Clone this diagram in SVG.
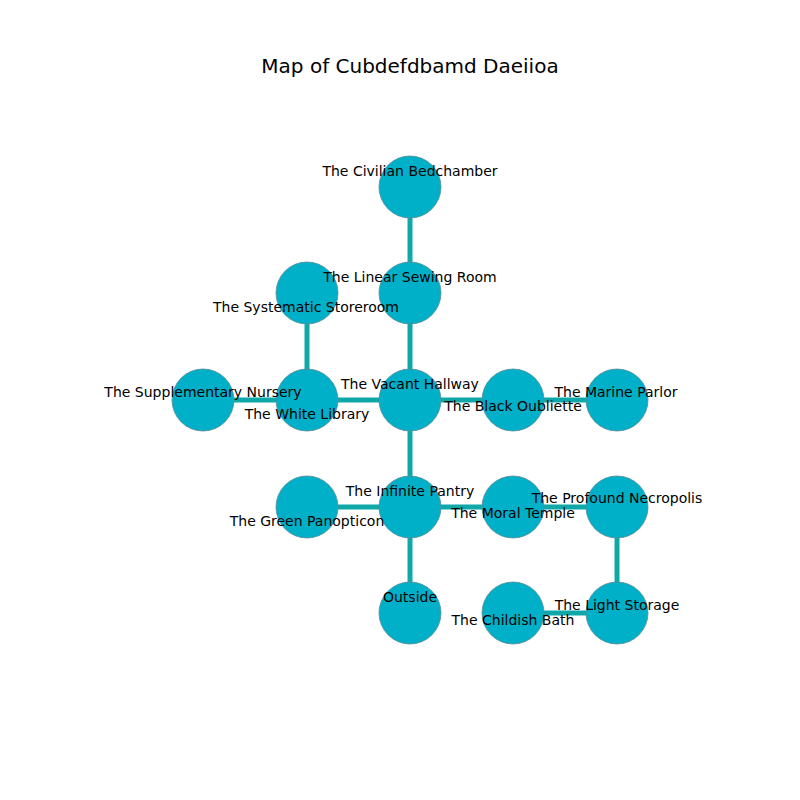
<svg xmlns="http://www.w3.org/2000/svg" width="800" height="800" viewBox="0 0 800 800">
<style>
.e{stroke:#0fa8a8;stroke-width:5;fill:none}
.n{fill:#00b0c8;stroke:#5a8a95;stroke-width:0.8}
.l{font-family:"DejaVu Sans",sans-serif;font-size:14px;fill:#000;text-anchor:middle}
.t{font-family:"DejaVu Sans",sans-serif;font-size:20px;fill:#000;text-anchor:middle}
</style>
<rect width="800" height="800" fill="#fff"/>
<text class="t" x="410" y="73">Map of Cubdefdbamd Daeiioa</text>
<g id="edges">
<line class="e" x1="410" y1="187" x2="410" y2="293"/>
<line class="e" x1="410" y1="293" x2="410" y2="400"/>
<line class="e" x1="307" y1="293" x2="307" y2="400"/>
<line class="e" x1="203" y1="400" x2="307" y2="400"/>
<line class="e" x1="307" y1="400" x2="410" y2="400"/>
<line class="e" x1="410" y1="400" x2="513" y2="400"/>
<line class="e" x1="513" y1="400" x2="617" y2="400"/>
<line class="e" x1="410" y1="400" x2="410" y2="507"/>
<line class="e" x1="307" y1="507" x2="410" y2="507"/>
<line class="e" x1="410" y1="507" x2="513" y2="507"/>
<line class="e" x1="513" y1="507" x2="617" y2="507"/>
<line class="e" x1="617" y1="507" x2="617" y2="613"/>
<line class="e" x1="513" y1="613" x2="617" y2="613"/>
<line class="e" x1="410" y1="507" x2="410" y2="613"/>
</g>
<g id="nodes">
<g id="n1"><circle class="n" cx="410" cy="187" r="31"/></g>
<g id="n2"><circle class="n" cx="410" cy="293" r="31"/></g>
<g id="n3"><circle class="n" cx="307" cy="293" r="31"/></g>
<g id="n4"><circle class="n" cx="203" cy="400" r="31"/></g>
<g id="n5"><circle class="n" cx="307" cy="400" r="31"/></g>
<g id="n6"><circle class="n" cx="410" cy="400" r="31"/></g>
<g id="n7"><circle class="n" cx="513" cy="400" r="31"/></g>
<g id="n8"><circle class="n" cx="617" cy="400" r="31"/></g>
<g id="n9"><circle class="n" cx="410" cy="507" r="31"/></g>
<g id="n10"><circle class="n" cx="307" cy="507" r="31"/></g>
<g id="n11"><circle class="n" cx="513" cy="507" r="31"/></g>
<g id="n12"><circle class="n" cx="617" cy="507" r="31"/></g>
<g id="n13"><circle class="n" cx="410" cy="613" r="31"/></g>
<g id="n14"><circle class="n" cx="513" cy="613" r="31"/></g>
<g id="n15"><circle class="n" cx="617" cy="613" r="31"/></g>
</g>
<g id="labels">
<text class="l" x="410" y="176">The Civilian Bedchamber</text>
<text class="l" x="410" y="282">The Linear Sewing Room</text>
<text class="l" x="306" y="312">The Systematic Storeroom</text>
<text class="l" x="203" y="397">The Supplementary Nursery</text>
<text class="l" x="307" y="419">The White Library</text>
<text class="l" x="410" y="389">The Vacant Hallway</text>
<text class="l" x="513" y="411">The Black Oubliette</text>
<text class="l" x="616" y="397">The Marine Parlor</text>
<text class="l" x="410" y="496">The Infinite Pantry</text>
<text class="l" x="307" y="526">The Green Panopticon</text>
<text class="l" x="513" y="518">The Moral Temple</text>
<text class="l" x="617" y="503">The Profound Necropolis</text>
<text class="l" x="410" y="602">Outside</text>
<text class="l" x="513" y="625">The Childish Bath</text>
<text class="l" x="617" y="610">The Light Storage</text>
</g>
</svg>
